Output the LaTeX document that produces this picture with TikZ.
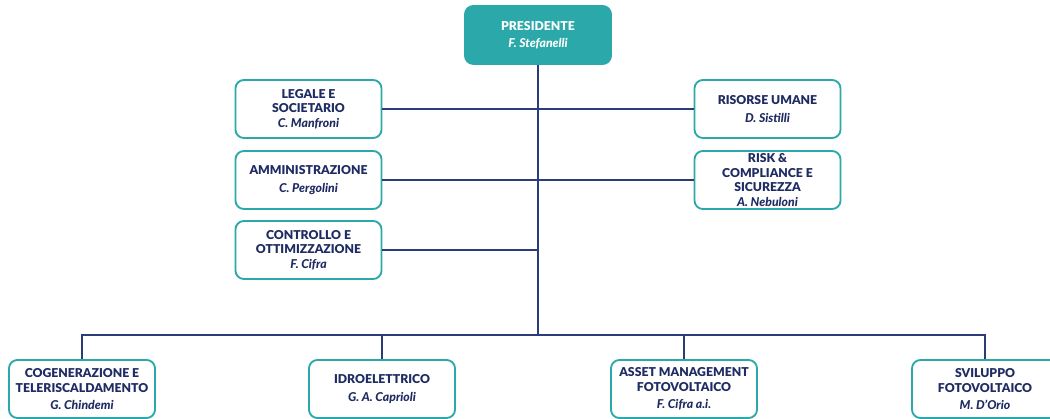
\documentclass[tikz,border=0pt]{standalone}
\usepackage{fontspec}
\setmainfont{Lato}[BoldFont={Lato Black}, BoldItalicFont={Lato Black Italic}]
\usetikzlibrary{positioning}
\definecolor{boxteal}{HTML}{2BA8A9}
\definecolor{navy}{HTML}{1F2B63}
\definecolor{linenavy}{HTML}{2B3C78}
\tikzstyle{unit} = [draw=boxteal, line width=1.3pt, rounded corners=6pt, fill=white, minimum width=3.65cm, minimum height=1.45cm, align=center, text=navy, font=\bfseries\fontsize{8.7}{10.3}\selectfont, inner sep=1pt]
\tikzstyle{link} = [linenavy, line width=0.9pt]

\begin{document}
\begin{tikzpicture}[x=0.025cm, y=-0.025cm]
    \useasboundingbox (0,0) rectangle (1050,419);
    % vertice
    \node[unit, fill=boxteal, text=white, draw=boxteal] (pres) at (538,35) {PRESIDENTE\\[2pt]\textit{F. Stefanelli}};
    % staff
    \node[unit] (legale) at (308.5,109) {LEGALE E\\SOCIETARIO\\\textit{C. Manfroni}};
    \node[unit] (ammin) at (308.5,180) {AMMINISTRAZIONE\\[3pt]\textit{C. Pergolini}};
    \node[unit] (contr) at (308.5,250) {CONTROLLO E\\OTTIMIZZAZIONE\\\textit{F. Cifra}};
    \node[unit] (risorse) at (767.5,109) {RISORSE UMANE\\[3pt]\textit{D. Sistilli}};
    \node[unit] (risk) at (767.5,180) {RISK \&\\COMPLIANCE E\\SICUREZZA\\\textit{A. Nebuloni}};
    % linee di business
    \node[unit] (cogen) at (82,389) {COGENERAZIONE E\\TELERISCALDAMENTO\\[2pt]\textit{G. Chindemi}};
    \node[unit] (idro) at (382,389) {IDROELETTRICO\\[3pt]\textit{G. A. Caprioli}};
    \node[unit] (asset) at (684,389) {ASSET MANAGEMENT\\FOTOVOLTAICO\\[2pt]\textit{F. Cifra a.i.}};
    \node[unit] (svil) at (985,389) {SVILUPPO\\FOTOVOLTAICO\\[2pt]\textit{M. D'Orio}};

    \draw[link] (pres.south) -- (538,335) coordinate (bus);
    \foreach \u in {legale, ammin, contr}
        \draw[link] (\u.east) -- (\u.east -| pres.south);
    \foreach \u in {risorse, risk}
        \draw[link] (\u.west) -- (\u.west -| pres.south);
    \draw[link] (cogen.north) |- (bus) -| (svil.north);
    \draw[link] (idro.north) -- (idro.north |- bus);
    \draw[link] (asset.north) -- (asset.north |- bus);
\end{tikzpicture}
\end{document}
